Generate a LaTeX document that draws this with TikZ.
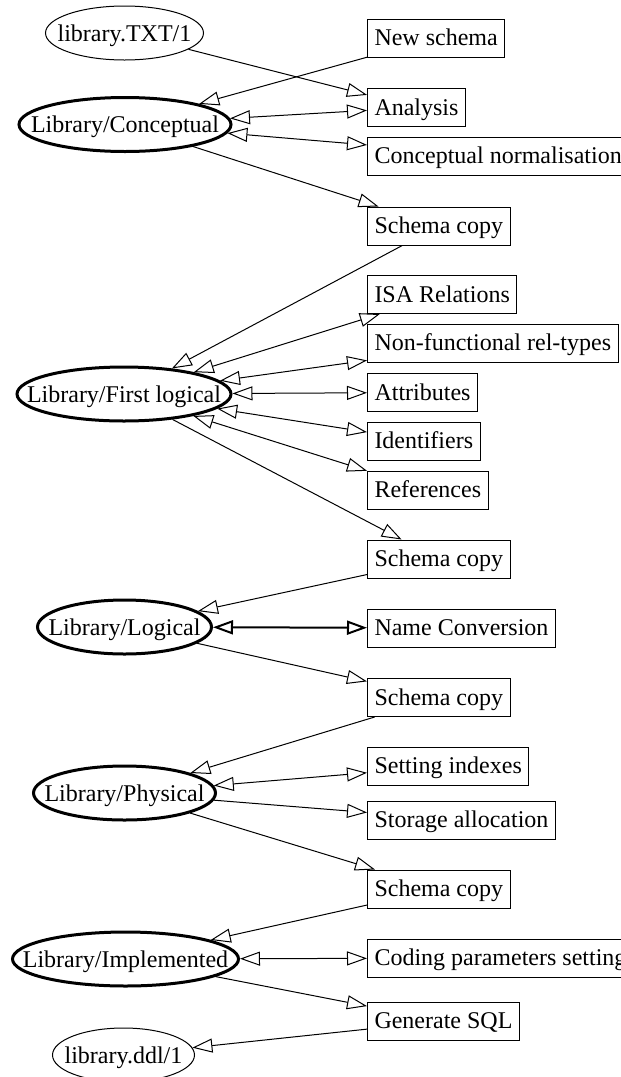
\documentclass[tikz,border=0pt]{standalone}
\usepackage{fontspec}
\setmainfont{Liberation Serif}
\usetikzlibrary{arrows.meta,shapes.geometric}

\begin{document}
\begin{tikzpicture}[x=0.5pt, y=-0.5pt, line width=0.5pt,
    >={Triangle[open, length=10pt, width=7pt]},
    font=\fontsize{12}{14}\selectfont,
    box/.style={draw, anchor=west, minimum height=19pt, inner xsep=3.5pt, inner ysep=0pt,
                text height=10pt, text depth=2.5pt},
    datafile/.style={draw, ellipse, inner sep=0pt, minimum height=27pt,
                text height=10pt, text depth=2pt},
    schema/.style={datafile, line width=1.5pt}]

    \useasboundingbox (0,0) rectangle (621,1077);

    % 左列: 文件与各阶段的模式
    \node[datafile, minimum width=79pt]  (txt)      at (124.5,33)   {\makebox[0pt]{library.TXT/1}};
    \node[schema, minimum width=106pt]   (concept)  at (125,124.5)  {\makebox[0pt]{Library/Conceptual}};
    \node[schema, minimum width=107pt]   (firstlog) at (124,394)    {\makebox[0pt]{Library/First logical}};
    \node[schema, minimum width=87pt]    (logical)  at (124.5,627)  {\makebox[0pt]{Library/Logical}};
    \node[schema, minimum width=91pt]    (physical) at (124.5,793)  {\makebox[0pt]{Library/Physical}};
    \node[schema, minimum width=113pt]   (implem)   at (125.5,959)  {\makebox[0pt]{Library/Implemented}};
    \node[datafile, minimum width=71pt]  (ddl)      at (123.5,1055) {\makebox[0pt]{library.ddl/1}};

    % 右列: 各个处理步骤
    \node[box] (newschema) at (367,38)    {New schema};
    \node[box] (analysis)  at (367,107.5) {Analysis};
    \node[box] (normal)    at (367,156)   {Conceptual normalisation};
    \node[box] (copyA)     at (367,226)   {Schema copy};
    \node[box] (isa)       at (367,294.5) {ISA Relations};
    \node[box] (nonfunc)   at (367,343)   {Non-functional rel-types};
    \node[box] (attrs)     at (367,392.5) {Attributes};
    \node[box] (idents)    at (367,441)   {Identifiers};
    \node[box] (refs)      at (367,490)   {References};
    \node[box] (copyB)     at (367,559)   {Schema copy};
    \node[box] (nameconv)  at (367,628)   {Name Conversion};
    \node[box] (copyC)     at (367,697.5) {Schema copy};
    \node[box] (indexes)   at (367,766)   {Setting indexes};
    \node[box] (storage)   at (367,820)   {Storage allocation};
    \node[box] (copyD)     at (367,889)   {Schema copy};
    \node[box] (coding)    at (367,958)   {Coding parameters setting};
    \node[box] (gensql)    at (367,1021)  {Generate SQL};

    % 概念模式
    \draw[->] (txt) -- (analysis);
    \draw[->] (newschema) -- (concept);
    \draw[<->] (concept) -- (analysis);
    \draw[<->] (concept) -- (normal);
    \draw[->] (concept) -- (copyA);

    % 第一逻辑模式
    \draw[->] (copyA) -- (firstlog);
    \foreach \step in {isa, nonfunc, attrs, idents, refs} {
        \draw[<->] (firstlog) -- (\step);
    }
    \draw[->] (firstlog) -- (copyB);

    % 逻辑模式
    \draw[->] (copyB) -- (logical);
    \draw[<->, line width=1pt] (logical) -- (nameconv);
    \draw[->] (logical) -- (copyC);

    % 物理模式
    \draw[->] (copyC) -- (physical);
    \draw[<->] (physical) -- (indexes);
    \draw[->] (physical) -- (storage);
    \draw[->] (physical) -- (copyD);

    % 实现模式与 SQL 生成
    \draw[->] (copyD) -- (implem);
    \draw[<->] (implem) -- (coding);
    \draw[->] (implem) -- (gensql);
    \draw[->] (gensql) -- (ddl);
\end{tikzpicture}
\end{document}
